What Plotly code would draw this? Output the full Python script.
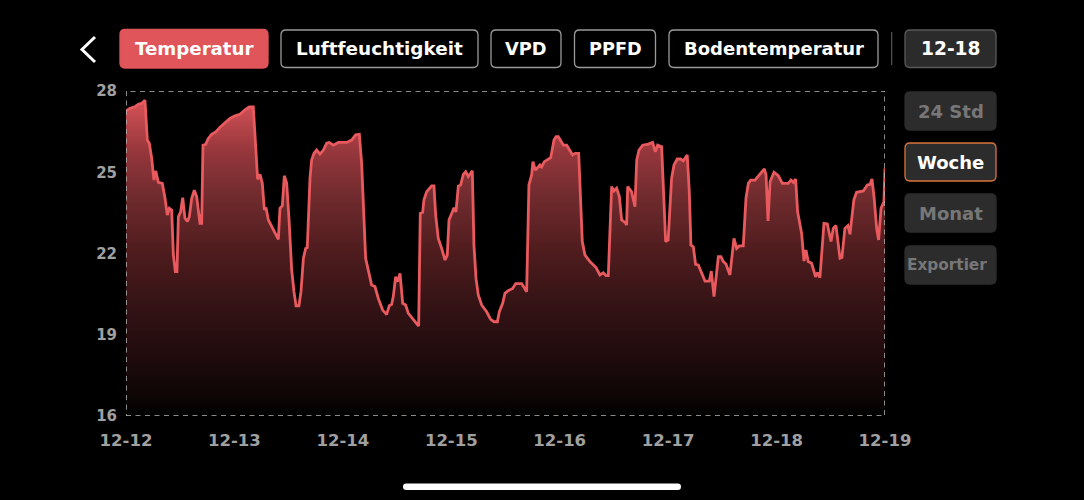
import plotly.graph_objects as go

# days since 12-12 00:00 and temperature
days = [0, .037, .083, .114, .144, .175, .197, .215, .237, .258, .274, .298, .335, .36, .381, .40, .421, .437, .455, .47,
        .483, .504, .523, .544, .566, .584, .606, .63, .652, .682, .698, .71, .735, .759, .79, .83, .867, .913, .959, 1.005,
        1.051, 1.097, 1.137, 1.174, 1.214, 1.236, 1.257, 1.276, 1.291, 1.313, 1.343, 1.383, 1.405, 1.42, 1.442, 1.46, 1.482, 1.503, 1.528, 1.549,
        1.568, 1.595, 1.614, 1.636, 1.657, 1.672, 1.697, 1.712, 1.734, 1.758, 1.789, 1.82, 1.851, 1.875, 1.912, 1.958, 2.035, 2.081, 2.118, 2.152,
        2.174, 2.21, 2.234, 2.265, 2.296, 2.327, 2.367, 2.404, 2.428, 2.45, 2.465, 2.487, 2.505, 2.527, 2.552, 2.579, 2.604, 2.65, 2.699, 2.714,
        2.736, 2.748, 2.773, 2.819, 2.84, 2.856, 2.88, 2.911, 2.942, 2.963, 2.979, 3.004, 3.025, 3.043, 3.065, 3.086, 3.111, 3.133, 3.157, 3.194,
        3.209, 3.228, 3.249, 3.28, 3.326, 3.363, 3.394, 3.425, 3.443, 3.474, 3.495, 3.526, 3.566, 3.594, 3.649, 3.695, 3.716, 3.741, 3.753, 3.775,
        3.818, 3.834, 3.858, 3.917, 3.947, 3.966, 3.987, 4.034, 4.064, 4.119, 4.144, 4.175, 4.193, 4.208, 4.233, 4.279, 4.335, 4.371, 4.402, 4.427,
        4.448, 4.479, 4.5, 4.525, 4.55, 4.571, 4.602, 4.617, 4.627, 4.663, 4.694, 4.71, 4.731, 4.765, 4.817, 4.857, 4.881, 4.903, 4.94, 4.955,
        4.977, 5.0, 5.032, 5.054, 5.084, 5.115, 5.14, 5.176, 5.195, 5.21, 5.232, 5.253, 5.278, 5.34, 5.38, 5.398, 5.423, 5.463, 5.487, 5.509,
        5.533, 5.57, 5.607, 5.632, 5.656, 5.693, 5.718, 5.74, 5.761, 5.801, 5.847, 5.887, 5.903, 5.921, 5.94, 5.976, 6.016, 6.053, 6.108, 6.133,
        6.154, 6.176, 6.194, 6.231, 6.253, 6.271, 6.292, 6.323, 6.36, 6.379, 6.4, 6.437, 6.468, 6.502, 6.523, 6.548, 6.585, 6.603, 6.63, 6.658,
        6.677, 6.713, 6.738, 6.8, 6.837, 6.861, 6.88, 6.9, 6.923, 6.941, 6.963, 6.99, 7.0]
temps = [27.26, 27.36, 27.42, 27.51, 27.54, 27.66, 26.19, 26.07, 25.51, 24.71, 25.05, 24.63, 24.59, 24.04, 23.42, 23.67, 23.61, 21.94, 21.33, 21.33,
         23.36, 23.54, 24.06, 23.3, 23.18, 23.36, 24.04, 24.34, 24.1, 23.11, 23.11, 26.0, 26.03, 26.25, 26.4, 26.5, 26.66, 26.81, 26.99, 27.08,
         27.14, 27.3, 27.41, 27.41, 24.74, 24.92, 24.59, 23.61, 23.7, 23.24, 22.99, 22.68, 22.52, 23.67, 23.77, 24.87, 24.59, 23.3, 21.39, 20.59,
         20.07, 20.07, 20.59, 21.82, 22.19, 22.22, 24.78, 25.45, 25.7, 25.82, 25.67, 25.82, 26.07, 26.1, 26.0, 26.1, 26.1, 26.19, 26.38, 26.4,
         25.27, 21.82, 21.33, 20.84, 20.78, 20.34, 19.91, 19.75, 20.07, 20.12, 20.41, 21.14, 20.96, 21.27, 20.16, 20.1, 19.79, 19.54, 19.32, 23.48,
         23.52, 23.98, 24.28, 24.5, 24.5, 23.42, 22.56, 22.19, 21.76, 21.94, 23.24, 23.48, 23.69, 23.54, 24.49, 24.53, 24.92, 25.02, 24.84, 25.05,
         22.31, 21.08, 20.47, 20.1, 19.85, 19.57, 19.48, 19.48, 19.85, 20.16, 20.53, 20.63, 20.71, 20.89, 20.89, 20.59, 24.53, 24.9, 25.39, 25.08,
         25.27, 25.2, 25.39, 25.54, 26.19, 26.31, 26.31, 26.0, 26.0, 25.64, 25.7, 25.7, 23.67, 22.44, 21.94, 21.7, 21.48, 21.21, 21.29, 21.18,
         21.18, 24.47, 24.31, 24.41, 24.1, 23.24, 23.15, 23.05, 24.47, 24.28, 23.73, 25.45, 25.82, 26.0, 26.04, 26.1, 25.76, 26.0, 25.94, 24.53,
         22.44, 22.5, 24.78, 25.27, 25.49, 25.49, 25.42, 25.64, 24.28, 22.31, 22.25, 21.6, 21.58, 20.98, 20.98, 21.35, 20.41, 21.88, 21.88, 21.7,
         21.61, 21.21, 22.56, 22.19, 22.28, 22.28, 24.04, 24.59, 24.71, 24.71, 24.92, 25.12, 24.9, 23.2, 24.65, 25.0, 24.87, 24.59, 24.59, 24.71,
         24.63, 24.75, 23.54, 22.74, 21.72, 22.13, 21.7, 21.64, 21.14, 21.3, 21.11, 23.11, 23.09, 22.44, 22.93, 23.03, 21.82, 21.85, 22.93, 23.03,
         22.71, 23.98, 24.26, 24.31, 24.53, 24.55, 24.75, 24.04, 22.93, 22.5, 23.67, 23.91, 25.15]
x_ticks = [0, 1, 2, 3, 4, 5, 6, 7]
x_labels = ["12-12", "12-13", "12-14", "12-15", "12-16", "12-17", "12-18", "12-19"]
y_ticks = [16, 19, 22, 25, 28]
y_floor = [16] * len(days)

FONT = "DejaVu Sans"
RED = "#e0555a"


def rounded(x0, y0, x1, y1, r=5):
    return (f"M{x0+r},{y0} L{x1-r},{y0} Q{x1},{y0} {x1},{y0+r} L{x1},{y1-r} Q{x1},{y1} {x1-r},{y1} "
            f"L{x0+r},{y1} Q{x0},{y1} {x0},{y1-r} L{x0},{y0+r} Q{x0},{y0} {x0+r},{y0} Z")


# label, left, top, right, bottom, fill, border, text colour, font size, text centre
buttons = [
    ("Temperatur", 120, 29.5, 268, 68, RED, RED, "#ffffff", 18.2, 194),
    ("Luftfeuchtigkeit", 281, 30, 478, 67.5, "#000000", "#9a9a9a", "#ffffff", 18.4, 379.5),
    ("VPD", 491, 30, 561, 67.5, "#000000", "#9a9a9a", "#ffffff", 17.8, 526),
    ("PPFD", 574.5, 30, 655.5, 67.5, "#000000", "#9a9a9a", "#ffffff", 17.7, 615),
    ("Bodentemperatur", 669, 30, 878, 67.5, "#000000", "#9a9a9a", "#ffffff", 18, 773.5),
    ("12-18", 905, 30, 996, 67.5, "#2b2b2b", "#5a5a5a", "#ffffff", 18.6, 950),
    ("24 Std", 905, 92, 996, 130, "#2c2c2c", "#2c2c2c", "#777777", 18, 951),
    ("Woche", 905, 143, 996, 181, "#2c2c2c", "#d9743c", "#ffffff", 18, 950.5),
    ("Monat", 905, 194, 996, 232, "#2c2c2c", "#2c2c2c", "#777777", 18, 951),
    ("Exportier", 905, 246, 996, 284, "#2c2c2c", "#2c2c2c", "#777777", 15.3, 946.5),
]

fig = go.Figure()
fig.add_trace(go.Scatter(x=days, y=y_floor, mode="lines", line=dict(width=0), hoverinfo="skip", showlegend=False))
fig.add_trace(go.Scatter(
    x=days, y=temps, mode="lines", fill="tonexty",
    line=dict(color="#e85a5e", width=2.8), cliponaxis=False, showlegend=False,
    fillgradient=dict(type="vertical", colorscale=[
        [0, "rgb(0,0,0)"], [0.05, "rgb(12,5,5)"], [0.21, "rgb(35,12,14)"], [0.37, "rgb(55,20,22)"],
        [0.525, "rgb(80,28,30)"], [0.685, "rgb(110,42,45)"], [0.84, "rgb(150,55,60)"], [1, "rgb(215,82,87)"],
    ]),
))

shapes = []
annotations = []
for label, x0, y0, x1, y1, fill, border, color, size, text_x in buttons:
    shapes.append(dict(type="path", path=rounded(x0, y0, x1, y1), xref="x2", yref="y2", fillcolor=fill,
                       line=dict(color=border, width=1.3), layer="below"))
    annotations.append(dict(text=label, x=text_x, y=(y0 + y1) / 2, xref="x2", yref="y2", showarrow=False,
                            font=dict(family=FONT, size=size, color=color, weight="bold")))

# back arrow, separator, home bar, dashed frame
shapes.append(dict(type="path", path="M95,37 L82,49.5 L95,62", xref="x2", yref="y2", line=dict(color="#ffffff", width=3)))
shapes.append(dict(type="line", x0=891.7, x1=891.7, y0=32, y1=65, xref="x2", yref="y2", line=dict(color="#555555", width=1.2)))
shapes.append(dict(type="path", path=rounded(403, 483.5, 681, 490, 3.2), xref="x2", yref="y2", fillcolor="#ffffff", line=dict(width=0)))
shapes.append(dict(type="rect", x0=0, x1=7, y0=16, y1=28, xref="x", yref="y", layer="above",
                   line=dict(color="#b8b8b8", width=1.5, dash="5px,4.5px")))

fig.update_layout(
    width=1084, height=500, margin=dict(l=0, r=0, t=0, b=0, autoexpand=False),
    paper_bgcolor="#000000", plot_bgcolor="rgba(0,0,0,0)",
    shapes=shapes, annotations=annotations, showlegend=False,
    xaxis=dict(domain=[126 / 1084, 885 / 1084], range=[0, 7], tickvals=x_ticks, ticktext=x_labels,
               showgrid=False, zeroline=False, showline=False, ticks="", ticklabelstandoff=12,
               tickfont=dict(family=FONT, size=16.5, color="#a0a0a0", weight="bold")),
    yaxis=dict(domain=[1 - 416 / 500, 1 - 91 / 500], range=[16, 28], tickvals=y_ticks,
               showgrid=False, zeroline=False, showline=False, ticks="", ticklabelstandoff=8,
               tickfont=dict(family=FONT, size=15, color="#a0a0a0", weight="bold")),
    xaxis2=dict(domain=[0, 1], range=[0, 1084], visible=False, anchor="y2"),
    yaxis2=dict(domain=[0, 1], range=[500, 0], visible=False, anchor="x2"),
)

fig.write_html("out.html", config=dict(displayModeBar=False), post_script="document.body.style.margin='0';")
